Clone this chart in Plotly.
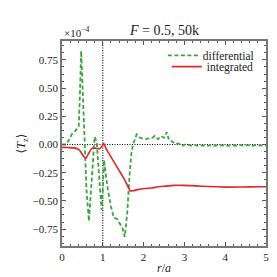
import plotly.graph_objects as go

# differential (x 1e-4)
r_diff = [0.0, 0.10, 0.17, 0.24, 0.30, 0.35, 0.41, 0.44, 0.47, 0.50, 0.55, 0.60, 0.66, 0.70, 0.75, 0.80,
          0.85, 0.92, 0.97, 1.00, 1.03, 1.08, 1.12, 1.20, 1.27, 1.35, 1.42, 1.48, 1.54, 1.60, 1.66, 1.70,
          1.74, 1.79, 1.83, 1.90, 1.97, 2.06, 2.16, 2.22, 2.27, 2.35, 2.43, 2.50, 2.57, 2.62, 2.70, 2.78,
          2.85, 2.95, 3.05, 3.15, 3.25, 3.35, 3.45, 3.55, 3.65, 3.75, 3.85, 3.95, 4.05, 4.15, 4.25, 4.35,
          4.45, 4.55, 4.65, 4.75, 4.85, 5.0]
diff_vals = [0.0, 0.0, 0.04, 0.09, 0.11, 0.13, 0.16, 0.45, 0.83, 0.55, 0.0, -0.40, -0.68, -0.45, -0.15, 0.07,
             0.02, -0.35, -0.58, -0.40, -0.14, -0.28, -0.39, -0.55, -0.65, -0.66, -0.71, -0.74, -0.82, -0.60, -0.25, -0.08,
             0.0, 0.06, 0.09, 0.065, 0.053, 0.05, 0.055, 0.06, 0.075, 0.047, 0.075, 0.06, 0.11, 0.04, 0.027, 0.004,
             0.01, -0.01, 0.005, -0.01, -0.005, -0.012, -0.008, -0.013, -0.005, -0.012, -0.004, -0.01, -0.012, -0.006, -0.011, -0.004,
             -0.01, -0.006, -0.012, -0.005, -0.009, -0.006]

# integrated (x 1e-4)
r_int = [0.0, 0.15, 0.30, 0.39, 0.45, 0.52, 0.58, 0.65, 0.72, 0.77, 0.85, 0.92, 0.97, 1.02, 1.10, 1.20,
         1.30, 1.40, 1.50, 1.60, 1.67, 1.74, 1.85, 2.04, 2.20, 2.35, 2.50, 2.74, 2.97, 3.30, 3.60, 4.00,
         4.40, 4.80, 5.0]
int_vals = [-0.025, -0.027, -0.03, -0.04, -0.06, -0.10, -0.124, -0.08, -0.04, -0.03, -0.035, -0.038, -0.02, 0.01, -0.05, -0.11,
            -0.17, -0.23, -0.29, -0.36, -0.41, -0.41, -0.40, -0.39, -0.385, -0.375, -0.37, -0.362, -0.362, -0.367, -0.372, -0.378,
            -0.377, -0.375, -0.375]

y_ticks = [-0.75, -0.50, -0.25, 0.00, 0.25, 0.50, 0.75]
y_ticktext = ["\u22120.75", "\u22120.50", "\u22120.25", "0.00", "0.25", "0.50", "0.75"]
x_ticks = [0, 1, 2, 3, 4, 5]

FONT = "Liberation Serif, DejaVu Serif, serif"

fig = go.Figure()
fig.add_trace(go.Scatter(x=r_diff, y=diff_vals, mode="lines", name="differential", legend="legend",
                         line=dict(color="#3aa63a", width=1.8, dash="4px,2.5px")))
fig.add_trace(go.Scatter(x=r_int, y=int_vals, mode="lines", name="integrated", legend="legend2",
                         line=dict(color="#e3262a", width=1.6, shape="spline", smoothing=0.4)))

fig.add_hline(y=0, line=dict(color="black", width=1.1, dash="1px,1.5px"), layer="below")
fig.add_vline(x=1, line=dict(color="black", width=1.1, dash="1px,1.5px"), layer="below")

axis_common = dict(showgrid=False, zeroline=False, showline=True, linecolor="#777777", linewidth=1.5,
                   mirror="allticks", ticks="inside", tickcolor="#555555", ticklen=4, tickwidth=1,
                   tickfont=dict(family=FONT, size=11, color="#222"))

leg_common = dict(xanchor="right", yanchor="middle", bgcolor="rgba(0,0,0,0)",
                  font=dict(family=FONT, size=11.5, color="#222"), itemwidth=30)

fig.update_layout(
    width=277, height=277,
    margin=dict(l=42, r=19, t=33, b=31),
    plot_bgcolor="white", paper_bgcolor="white",
    font=dict(family=FONT, color="#222"),
    showlegend=True,
    legend=dict(x=0.965, y=0.93, **leg_common),
    legend2=dict(x=0.965, y=0.875, **leg_common),
    xaxis=dict(range=[0, 5], tickvals=x_ticks, title=dict(text="<i>r</i>/<i>a</i>", font=dict(family=FONT, size=12), standoff=2),
               minor=dict(ticks="inside", dtick=0.2, ticklen=2.5, tickcolor="#555555"), **axis_common),
    yaxis=dict(range=[-0.90, 0.918], tickvals=y_ticks, ticktext=y_ticktext,
               title=dict(text="\u27e8<i>T</i><sub>z</sub>\u27e9", font=dict(family=FONT, size=12), standoff=4),
               minor=dict(ticks="inside", dtick=0.0625, ticklen=2.5, tickcolor="#555555"), **axis_common),
    annotations=[
        dict(text="<i>F</i> = 0.5, 50k", xref="paper", yref="paper", x=0.5, y=1.0, xanchor="center", yanchor="bottom",
             yshift=1, showarrow=False, font=dict(family=FONT, size=14, color="#222")),
        dict(text="\u00d710<sup>\u22124</sup>", xref="paper", yref="paper", x=0.0, y=1.0, xanchor="left", yanchor="bottom",
             yshift=0, showarrow=False, font=dict(family=FONT, size=11, color="#222")),
    ],
)

fig.write_html("out.html")
